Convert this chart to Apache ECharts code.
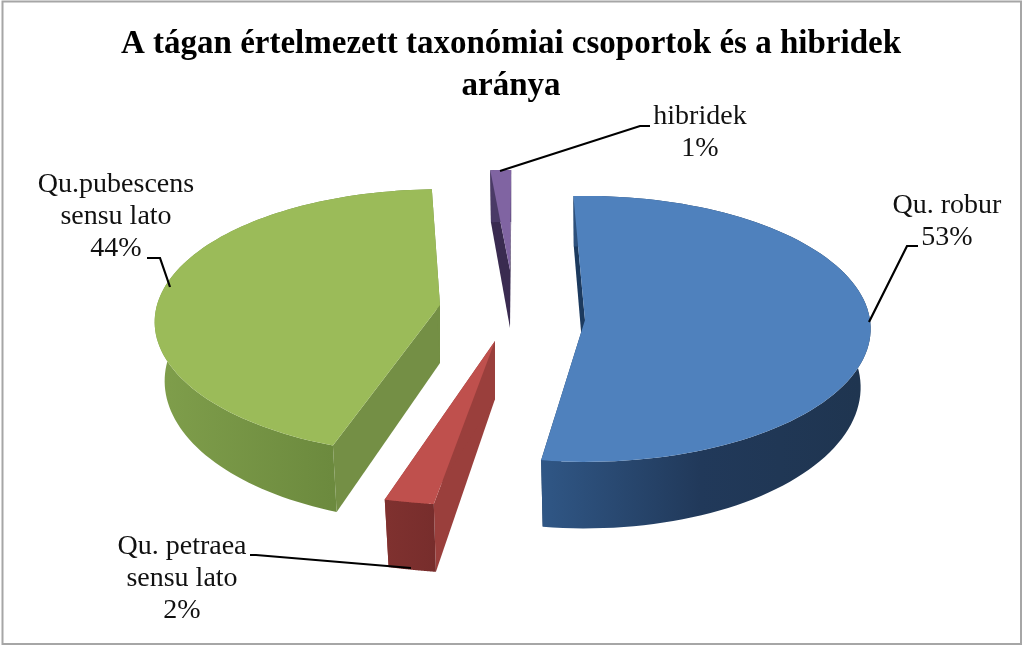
<!DOCTYPE html>
<html>
<head>
<meta charset="utf-8">
<style>html,body{margin:0;padding:0;background:#fff}#c{width:1024px;height:646px}</style>
<script src="https://cdn.jsdelivr.net/npm/echarts@6/dist/echarts.min.js"></script>
</head>
<body>
<div id="c"></div>
<script>
const chartTitle = 'A tágan értelmezett taxonómiai csoportok és a hibridek\naránya';
const categories = ['Qu. robur', 'Qu. petraea\nsensu lato', 'Qu.pubescens\nsensu lato', 'hibridek'];
const shares = [53, 2, 44, 1];

// View of the tilted, exploded pie: one entry per slice (screen geometry only).
const views = [
  {ax:585, ay:320, rx:285, ry:133, p:0.067, shift:0},
  {ax:495, ay:341, rx:400, ry:165, p:0,     shift:0.5},
  {ax:440, ay:305, rx:283, ry:133, p:0.13,  shift:4.2},
  {ax:510, ay:270, rx:333, ry:100, p:0,     shift:2.7}
];
const startAngle = -2.5, depth = 58, bx = 0.965, by = 1.06;
const paints = [
  {top:'#4f81bd', inner:'#1c3a5e', wall:[[0,'#305786'],[0.5,'#21395a'],[1,'#1f3550']], x0:540, x1:860},
  {top:'#bf504d', inner:'#9a3f3c', wall:[[0,'#7f312f'],[1,'#772d2c']], x0:387, x1:436},
  {top:'#9bbb59', inner:'#748f45', wall:[[0,'#7f9e4b'],[1,'#6c8a3e']], x0:160, x1:332},
  {top:'#8064a2', inner:'#3a2b50', wall:[[0,'#4a3a66'],[1,'#4a3a66']], x0:490, x1:511}
];
const labelAt = [[947,222],[182,579],[116,217],[700,133]];
const leaders = [
  [[869,322],[907,246],[918,246]],
  [[411,568],[256,555],[250,555]],
  [[170,287],[160,258],[147,258]],
  [[500,171],[640,126],[650,126]]
];

const total = shares.reduce((a,b)=>a+b,0);
function project(v, deg){
  const t = deg*Math.PI/180, u = Math.sin(t), w = -Math.cos(t), s = 1+v.p*w;
  return [u*v.rx*s, w*v.ry*s];
}
function renderItem(params, api){
  const i = params.dataIndex, v = views[i], c = paints[i];
  let before = 0;
  for(let k=0;k<i;k++) before += shares[k];
  const a0 = startAngle + v.shift + before/total*360;
  const a1 = a0 + api.value(0)/total*360;
  const top = d=>{const q=project(v,d);return [v.ax+q[0], v.ay+q[1]];};
  const bot = d=>{const q=project(v,d);return [v.ax+q[0]*bx, v.ay+depth+q[1]*by];};
  const arc = [], n = 96;
  for(let k=0;k<=n;k++) arc.push(a0+(a1-a0)*k/n);
  const apexT = [v.ax, v.ay], apexB = [v.ax, v.ay+depth];
  const poly = (points, fill)=>({type:'polygon', shape:{points}, style:{fill, stroke:null}});
  const wallFill = {type:'linear', global:true, x:c.x0, y:0, x2:c.x1, y2:0,
    colorStops:c.wall.map(s=>({offset:s[0], color:s[1]}))};
  const children = [
    poly([apexT, top(a0), bot(a0), apexB], c.inner),
    poly([apexT, top(a1), bot(a1), apexB], c.inner),
    poly(arc.map(top).concat(arc.slice().reverse().map(bot)), wallFill),
    poly([apexT].concat(arc.map(top)), c.top),
    {type:'polyline', shape:{points:leaders[i]}, style:{stroke:'#000', lineWidth:2.2, fill:null}},
    {type:'text', style:{x:labelAt[i][0], y:labelAt[i][1], text:categories[i]+'\n'+api.value(0)+'%',
      fill:'#111', font:'28px "Liberation Serif"', lineHeight:32, align:'center', verticalAlign:'middle'}}
  ];
  return {type:'group', children};
}

const chart = echarts.init(document.getElementById('c'), null, {renderer:'canvas'});
chart.setOption({
  animation:false,
  backgroundColor:'#fff',
  title:{text:chartTitle, left:506, top:18, textAlign:'center',
    textStyle:{fontFamily:'Liberation Serif', fontWeight:'bold', fontSize:33, lineHeight:42, color:'#000', align:'center'}},
  graphic:[{type:'rect', shape:{x:2.5,y:1.5,width:1018.5,height:642.5}, style:{fill:null, stroke:'#a6a6a6', lineWidth:2}, silent:true}],
  series:[{type:'custom', coordinateSystem:'none', renderItem,
    data:shares.map((s,i)=>({name:categories[i], value:[s]}))}]
});
</script>
</body>
</html>
